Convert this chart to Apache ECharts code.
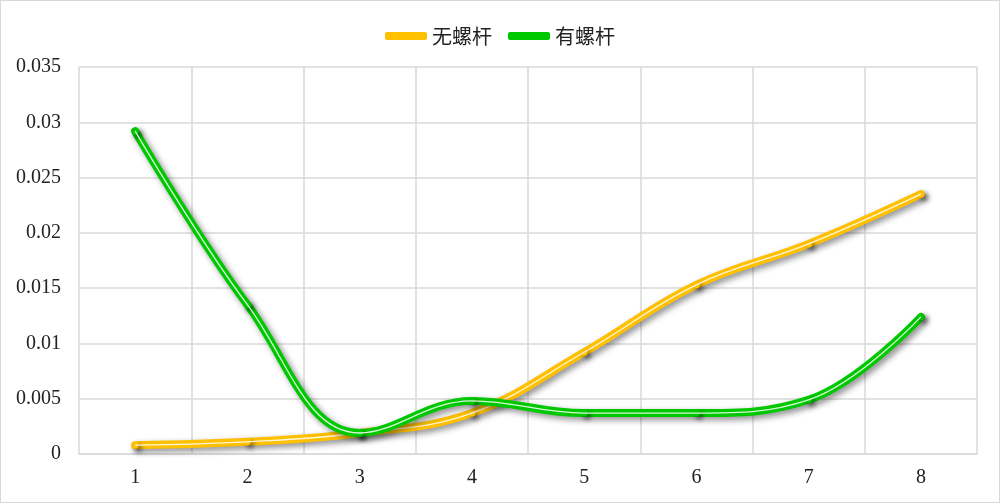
<!DOCTYPE html>
<html><head><meta charset="utf-8">
<script src="https://cdn.jsdelivr.net/npm/echarts@6/dist/echarts.min.js"></script>
<style>html,body{margin:0;padding:0;background:#fff}#c{width:998px;height:501px;border:1px solid #d9d9d9}</style>
</head><body><div id="c"></div>
<script>
const categories = ['1','2','3','4','5','6','7','8'];
const seriesNames = ['无螺杆','有螺杆'];
const noScrew = [0.0008, 0.0011, 0.0019, 0.0037, 0.0092, 0.0153, 0.0190, 0.0235];
const withScrew = [0.0292, 0.0135, 0.0019, 0.0048, 0.0037, 0.0037, 0.0049, 0.0124];
const colors = ['#ffc000', '#00c800'];

const chart = echarts.init(document.getElementById('c'));
const SM = 0.4;
function mainSeries(name, data, color){
  return {name, type:'line', data, smooth:SM, symbol:'circle', symbolSize:7, showSymbol:true,
    itemStyle:{color, shadowColor:'rgba(0,0,0,0.6)', shadowBlur:5, shadowOffsetX:3, shadowOffsetY:3},
    lineStyle:{width:8, color, cap:'round', join:'round', shadowColor:'rgba(0,0,0,0.45)', shadowBlur:6, shadowOffsetX:3, shadowOffsetY:3},
    z:2};
}
function innerSeries(name, data){
  return {name:name+'_in', type:'line', data, smooth:SM, symbol:'none', silent:true,
    lineStyle:{width:1.3, color:'rgba(255,255,255,0.85)'}, z:3};
}
chart.setOption({
  animation:false,
  legend:{data:seriesNames, top:20, left:'center', itemWidth:42, itemHeight:8, itemGap:16, icon:'roundRect',
    textStyle:{fontFamily:'Noto Sans CJK SC', fontSize:20, color:'#222'}},
  grid:{left:78, right:22, top:66, bottom:48},
  xAxis:{type:'category', data:categories, boundaryGap:true,
    axisTick:{show:false}, axisLine:{lineStyle:{color:'#d9d9d9', width:1.5}},
    splitLine:{show:true, lineStyle:{color:'#d9d9d9', width:1.5}},
    axisLabel:{fontFamily:'Liberation Serif', fontSize:20, color:'#222', margin:14}},
  yAxis:{type:'value', min:0, max:0.035, interval:0.005,
    axisLine:{show:false}, axisTick:{show:false},
    splitLine:{lineStyle:{color:'#d9d9d9', width:1.5}},
    axisLabel:{fontFamily:'Liberation Serif', fontSize:20, color:'#222', margin:18}},
  series:[
    mainSeries(seriesNames[0], noScrew, colors[0]), innerSeries(seriesNames[0], noScrew),
    Object.assign(mainSeries(seriesNames[1], withScrew, colors[1]), {z:4}),
    Object.assign(innerSeries(seriesNames[1], withScrew), {z:5})
  ]
});
</script></body></html>
